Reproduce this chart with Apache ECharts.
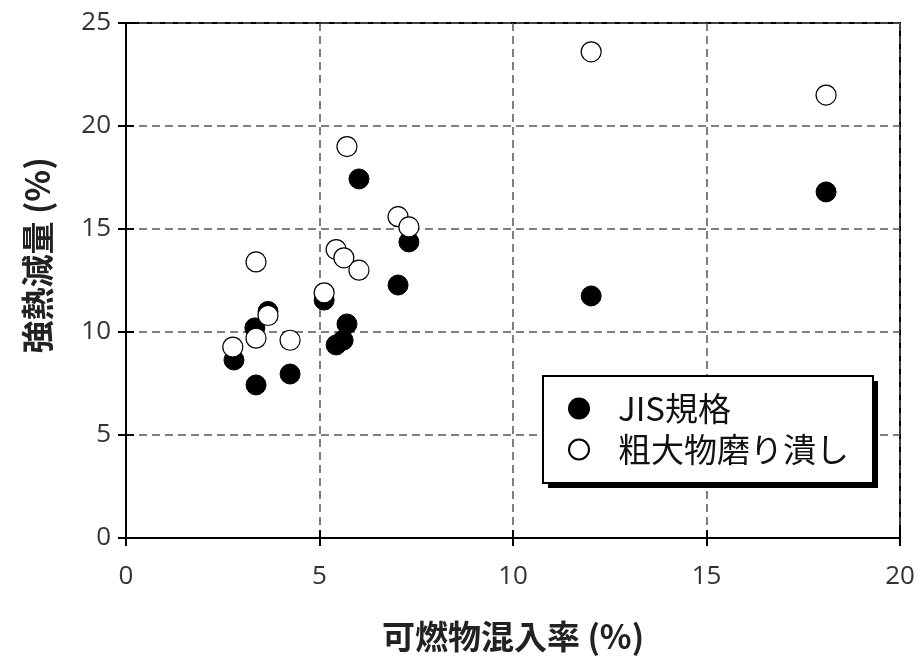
<!DOCTYPE html>
<html>
<head>
<meta charset="utf-8">
<script src="https://cdn.jsdelivr.net/npm/echarts@6/dist/echarts.min.js"></script>
<style>
  html, body { margin: 0; padding: 0; background: #fff; }
  #chart { width: 920px; height: 665px; }
</style>
</head>
<body>
<div id="chart"></div>
<script>
// 可燃物混入率 (%) vs 強熱減量 (%)
const seriesNames = ['JIS規格', '粗大物磨り潰し'];

// JIS規格
const jisX = [2.79, 3.36, 3.33, 3.67, 4.24, 5.12, 5.71, 5.61, 5.43, 6.02, 7.31, 7.03, 12.02, 18.09];
const jisY = [8.64, 7.43, 10.2, 11.0, 7.96, 11.55, 10.39, 9.6, 9.37, 17.43, 14.37, 12.28, 11.75, 16.8];

// 粗大物磨り潰し
const crushX = [2.76, 3.36, 3.36, 3.67, 4.24, 5.12, 5.71, 5.43, 5.63, 6.02, 7.03, 7.31, 12.02, 18.09];
const crushY = [9.27, 13.4, 9.7, 10.8, 9.6, 11.9, 19.0, 14.0, 13.6, 13.0, 15.6, 15.1, 23.6, 21.5];

const xTicks = [0, 5, 10, 15, 20];
const yTicks = [0, 5, 10, 15, 20, 25];

const pairs = (xs, ys) => xs.map((x, i) => [x, ys[i]]);

const labelFont = { fontFamily: 'Open Sans', fontSize: 26, color: '#333' };
const titleFont = { fontFamily: 'Noto Sans CJK JP', fontSize: 33, fontWeight: 'bold', color: '#222' };

const gridLine = { show: true, lineStyle: { color: '#555', width: 1.5, type: [8, 5] } };
const frameLine = { show: true, lineStyle: { color: '#000', width: 2 } };
const innerTick = { show: true, inside: true, length: 8, lineStyle: { color: '#000', width: 2 } };

// legend frame with a hard drop shadow
const box = { x: 543, y: 376, w: 330, h: 107, shadow: 5 };

const chart = echarts.init(document.getElementById('chart'));
chart.setOption({
  animation: false,
  backgroundColor: '#fff',
  grid: { left: 126, right: 20, top: 23, bottom: 127, show: true, borderColor: '#000', borderWidth: 2 },
  graphic: [{
    type: 'rect', z: 10,
    shape: { x: box.x + box.shadow, y: box.y + box.shadow, width: box.w, height: box.h },
    style: { fill: '#000' }
  }, {
    type: 'rect', z: 11,
    shape: { x: box.x, y: box.y, width: box.w, height: box.h },
    style: { fill: '#fff', stroke: '#000', lineWidth: 2 }
  }],
  legend: {
    orient: 'vertical',
    left: box.x, top: box.y,
    z: 20,
    padding: [16, 13, 16, 25],
    itemWidth: 20, itemHeight: 20, itemGap: 8,
    textStyle: { fontFamily: 'Noto Sans CJK JP', fontSize: 33, color: '#111', padding: [0, 0, 0, 24] },
    data: seriesNames
  },
  xAxis: [{
    type: 'value', min: xTicks[0], max: xTicks[xTicks.length - 1], interval: 5,
    name: '可燃物混入率 (%)', nameLocation: 'middle', nameGap: 82, nameTextStyle: titleFont,
    axisLine: frameLine, axisTick: innerTick,
    axisLabel: Object.assign({ margin: 26 }, labelFont),
    splitLine: gridLine
  }, {
    type: 'value', position: 'top', min: xTicks[0], max: xTicks[xTicks.length - 1], interval: 5,
    axisLine: frameLine, axisTick: innerTick,
    axisLabel: { show: false }, splitLine: { show: false }
  }],
  yAxis: [{
    type: 'value', min: yTicks[0], max: yTicks[yTicks.length - 1], interval: 5,
    name: '強熱減量 (%)', nameLocation: 'middle', nameGap: 72,
    nameTextStyle: Object.assign({ padding: [0, 0, 0, 50] }, titleFont),
    axisLine: frameLine, axisTick: innerTick,
    axisLabel: Object.assign({ margin: 15 }, labelFont),
    splitLine: gridLine
  }, {
    type: 'value', position: 'right', min: yTicks[0], max: yTicks[yTicks.length - 1], interval: 5,
    axisLine: frameLine, axisTick: innerTick,
    axisLabel: { show: false }, splitLine: { show: false }
  }],
  series: [{
    name: seriesNames[0], type: 'scatter', symbol: 'circle', symbolSize: 20,
    itemStyle: { color: '#000', borderColor: '#000', borderWidth: 1, opacity: 1 },
    data: pairs(jisX, jisY)
  }, {
    name: seriesNames[1], type: 'scatter', symbol: 'circle', symbolSize: 20,
    itemStyle: { color: '#fff', borderColor: '#000', borderWidth: 1.2, opacity: 1 },
    data: pairs(crushX, crushY)
  }]
});
</script>
</body>
</html>
